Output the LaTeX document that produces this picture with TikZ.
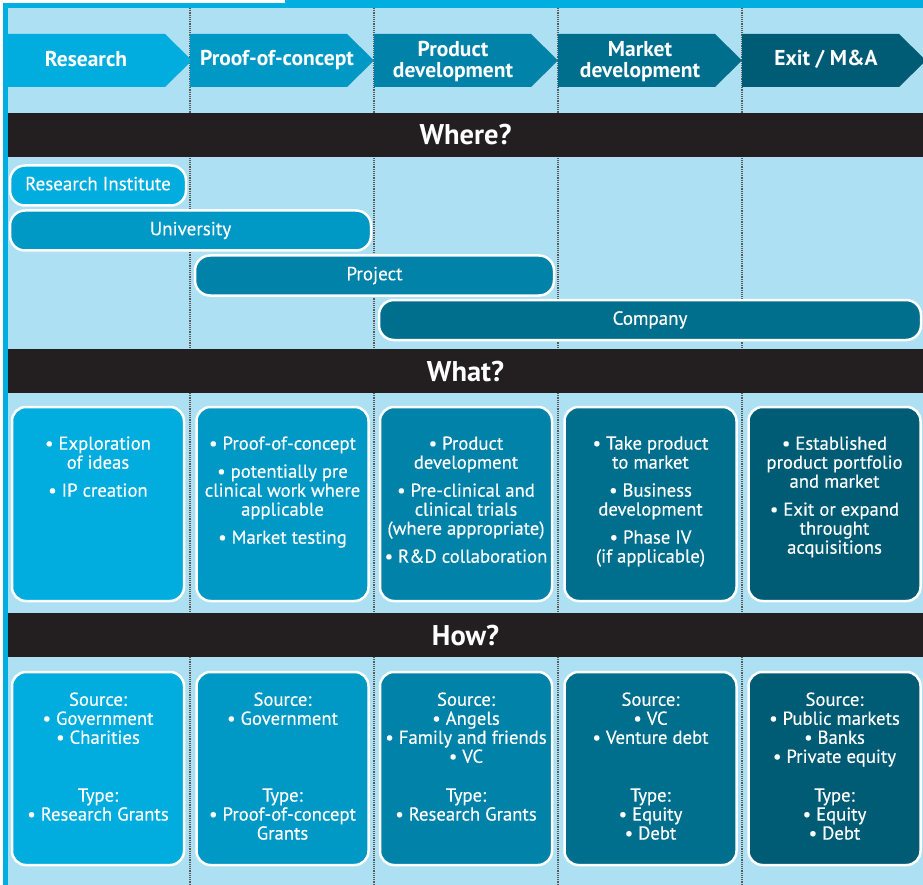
\documentclass[tikz,border=0pt]{standalone}
\usepackage{fontspec}
\setmainfont{PT Sans}
\newfontfamily\boxfont{PT Sans}[FakeBold=0.35]
\usetikzlibrary{positioning}

\definecolor{bgblue}{RGB}{173,224,242}
\definecolor{framecyan}{RGB}{0,174,224}
\definecolor{stageA}{RGB}{0,173,222}
\definecolor{stageB}{RGB}{0,152,196}
\definecolor{stageC}{RGB}{0,130,169}
\definecolor{stageD}{RGB}{0,111,141}
\definecolor{stageE}{RGB}{0,91,116}
\definecolor{barblack}{RGB}{35,31,32}

\begin{document}
\begin{tikzpicture}[x=1pt,y=-1pt]
        % Setup the styles
        \tikzset{stage label/.style={text=white,
                                    align=center,
                                    font=\fontsize{21.5}{20.5}\selectfont\bfseries}}
        \tikzset{title bar/.style={fill=barblack,
                                    text=white,
                                    minimum width=915pt,
                                    minimum height=44pt,
                                    inner sep=0pt,
                                    text height=20pt, text depth=0pt,
                                    font=\fontsize{28.5}{30}\selectfont\bfseries}}
        \tikzset{place pill/.style={draw=white,
                                    line width=2.5pt,
                                    rounded corners=15pt,
                                    minimum height=40pt,
                                    inner sep=0pt,
                                    text height=13.5pt, text depth=4pt,
                                    text=white,
                                    font=\boxfont\fontsize{19}{19}\selectfont}}
        \tikzset{info box/.style={draw=white,
                                    line width=2.5pt,
                                    rounded corners=14pt,
                                    minimum width=172pt,
                                    inner sep=0pt}}
        \tikzset{info text/.style={inner sep=0pt,
                                    text=white,
                                    align=center,
                                    font=\boxfont\fontsize{18.7}{19}\selectfont}}
        \tikzset{phase line/.style={densely dotted,
                                    line width=1.2pt,
                                    draw=black!65}}

        % Background and frame
        \useasboundingbox (0,0) rectangle (923,885);
        \fill[framecyan] (3,3) rectangle (923,885);
        \fill[framecyan] (285,0) rectangle (923,3);
        \fill[bgblue] (8,8) rectangle (923,885);

        % Dotted phase separators
        \foreach \x in {190,374,558,742}
            \draw[phase line] (\x,8) -- (\x,885);

        % Draw the stage arrows
        \foreach \x/\col in {8/stageA,190/stageB,374/stageC,558/stageD,742/stageE}
            \fill[\col] (\x,34) -- ++(157,0) -- ++(27,26.5) -- ++(-27,26.5) -- (\x,87) -- cycle;
        \node[stage label] (research) at (86,59) {Research};
        \node[stage label] (poc) at (277,60) {Proof-of-concept};
        \node[stage label] (proddev) at (453,61.5) {Product\\development};
        \node[stage label] (mktdev) at (640,61.5) {Market\\development};
        \node[stage label] (exit) at (826,59.5) {Exit / M\&A};

        % Title bars
        \node[title bar] (where) at (465.5,135) {Where?};
        \node[title bar] (what) at (465.5,371) {What?};
        \node[title bar] (how) at (465.5,635) {How?};

        % Where: places
        \node[place pill, fill=stageA, minimum width=176pt] (institute) at (98,185.5) {Research Institute};
        \node[place pill, fill=stageB, minimum width=361pt] (university) at (190.5,230.5) {University};
        \node[place pill, fill=stageC, minimum width=359pt] (project) at (374.5,275.5) {Project};
        \node[place pill, fill=stageD, minimum width=542pt] (company) at (650,320) {Company};

        % What and How boxes
        \foreach \x/\col [count=\i] in {98/stageA,282.5/stageB,466/stageC,650.5/stageD,834.5/stageE} {
            \node[info box, fill=\col, minimum height=194pt] (what\i) at (\x,504) {};
            \node[info box, fill=\col, minimum height=193pt] (how\i) at (\x,768.5) {};
        }

        % What texts
        \node[info text, below=30.5pt of what1.north] (whattext1) {• Exploration\\of ideas\\[9pt]• IP creation};
        \node[info text, below=30.5pt of what2.north] (whattext2) {• Proof-of-concept\\[9pt]• potentially pre\\clinical work where\\applicable\\[9pt]• Market testing};
        \node[info text, below=30.5pt of what3.north] (whattext3) {• Product\\development\\[9pt]• Pre-clinical and\\clinical trials\\(where appropriate)\\[9pt]• R\&D collaboration};
        \node[info text, below=30.5pt of what4.north] (whattext4) {• Take product\\to market\\[9pt]• Business\\development\\[9pt]• Phase IV\\(if applicable)};
        \node[info text, below=30.5pt of what5.north] (whattext5) {• Established\\product portfolio\\and market\\[9pt]• Exit or expand\\throught\\acquisitions};

        % How texts: sources
        \node[info text, below=21.5pt of how1.north] (source1) {Source:\\• Government\\• Charities};
        \node[info text, below=21.5pt of how2.north] (source2) {Source:\\• Government};
        \node[info text, below=21.5pt of how3.north] (source3) {Source:\\• Angels\\• Family and friends\\• VC};
        \node[info text, below=21.5pt of how4.north] (source4) {Source:\\• VC\\• Venture debt};
        \node[info text, below=21.5pt of how5.north] (source5) {Source:\\• Public markets\\• Banks\\• Private equity};

        % How texts: types
        \node[info text, below=117.5pt of how1.north] (type1) {Type:\\• Research Grants};
        \node[info text, below=117.5pt of how2.north] (type2) {Type:\\• Proof-of-concept\\Grants};
        \node[info text, below=117.5pt of how3.north] (type3) {Type:\\• Research Grants};
        \node[info text, below=117.5pt of how4.north] (type4) {Type:\\• Equity\\• Debt};
        \node[info text, below=117.5pt of how5.north] (type5) {Type:\\• Equity\\• Debt};
\end{tikzpicture}
\end{document}
